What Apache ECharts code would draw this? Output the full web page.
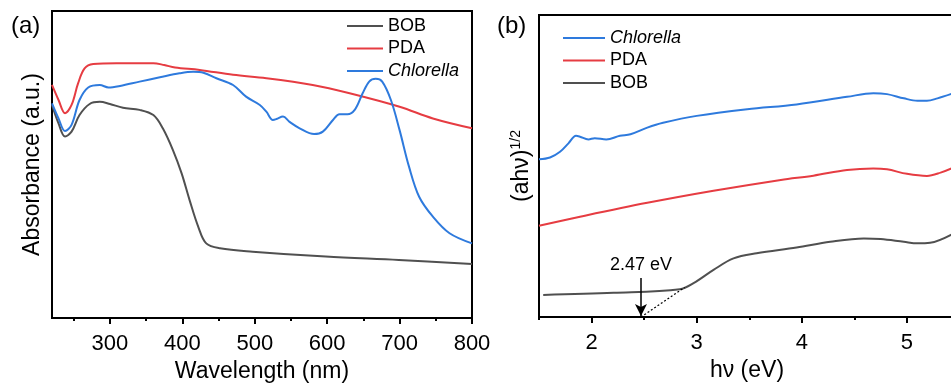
<!DOCTYPE html>
<html><head><meta charset="utf-8">
<script src="https://cdn.jsdelivr.net/npm/echarts@6/dist/echarts.min.js"></script>
<style>html,body{margin:0;padding:0;background:#fff}#c{width:951px;height:383px}</style>
</head><body><div id="c"></div>
<script>
// ---- Panel (a): UV-vis absorbance (a.u.) ----
const bobWl  = [220,229,238,247,258,272,286,300,318,341,360,373,387,399,410,422,433,452,497,598,699,800];
const bobAbs = [69.4,63.4,59.1,60.7,66.1,69.7,70.4,69.7,68.5,67.8,66.1,61.8,54.7,47.1,38.4,29.7,24.3,22.7,21.6,20.0,18.9,17.6];
const pdaWl  = [220,229,238,247,256,265,277,309,360,375,390,424,470,516,580,631,700,746,800];
const pdaAbs = [75.9,71.0,66.7,69.4,76.4,81.3,82.7,83.0,83.0,82.4,81.6,80.8,79.2,78.1,75.9,73.2,68.8,65.0,61.8];
const chlWl  = [220,229,238,247,258,270,286,298,314,341,369,396,415,429,447,470,488,507,516,525,530,539,548,562,582,594,608,617,628,638,649,658,667,676,688,700,713,727,746,769,800];
const chlAbs = [69.9,65.0,60.9,62.9,71.0,75.1,75.9,75.1,75.6,77.0,78.4,79.7,80.2,79.9,78.1,75.9,72.1,69.4,67.2,64.5,64.8,65.6,63.9,61.8,59.9,60.7,64.5,66.4,66.4,67.8,73.2,77.0,77.9,77.0,71.0,61.2,49.3,39.5,33.0,27.6,24.3];
const wlTicks = [300,400,500,600,700,800];
const wlMinorTicks = [250,350,450,550,650,750];

// ---- Panel (b): Tauc plot (ahv)^1/2 ----
const chlEv   = [1.50,1.605,1.70,1.78,1.852,1.89,1.97,2.03,2.14,2.27,2.37,2.53,2.68,3.0,3.48,3.95,4.43,4.68,4.81,4.97,5.10,5.19,5.29,5.45];
const chlTauc = [52.2,52.8,54.7,57.5,60.0,59.7,58.8,59.2,58.8,60.0,60.5,62.7,64.3,66.6,68.8,70.4,72.9,74.1,73.8,72.4,71.6,71.6,72.4,74.2];
const pdaEv   = [1.50,1.89,2.53,3.16,3.80,4.11,4.43,4.68,4.81,5.0,5.19,5.32,5.45];
const pdaTauc = [30.2,33.2,37.8,41.8,45.4,46.8,48.7,49.2,48.9,47.4,46.7,47.8,49.6];
const bobEv   = [1.54,2.21,2.84,2.97,3.16,3.35,3.57,3.95,4.27,4.59,4.75,4.97,5.10,5.22,5.45];
const bobTauc = [7.3,8.0,9.2,11.2,15.6,19.4,21.1,23.0,24.9,26.0,25.8,24.9,24.4,24.6,27.8];
const tangentEv   = [2.47,2.886];
const tangentTauc = [0,9.8];
const gapEnergy = 2.47;
const gapLabel = '2.47 eV';
const evTicks = [2,3,4,5];
const evMinorTicks = [1.5,2.5,3.5,4.5];

const zip = (xs, ys) => xs.map((x, i) => [x, ys[i]]);
const FONT = 'Liberation Sans, Arial, sans-serif';
const C_BOB = '#505050', C_PDA = '#e63c42', C_CHL = '#2e7add';

function xMain(gridIndex, min, max, ticks, name, gap) {
  return {
    type: 'value', gridIndex, min, max, position: 'bottom',
    name, nameLocation: 'middle', nameGap: gap,
    nameTextStyle: {fontSize: 23, color: '#000', fontFamily: FONT},
    axisLine: {show: true, lineStyle: {color: '#000', width: 2}},
    axisTick: {show: true, inside: false, length: 6, customValues: ticks, lineStyle: {color: '#000', width: 2}},
    axisLabel: {show: true, customValues: ticks, fontSize: 22, color: '#000', fontFamily: FONT, margin: 15},
    splitLine: {show: false}
  };
}
function xMinor(gridIndex, min, max, ticks) {
  return {
    type: 'value', gridIndex, min, max, position: 'bottom',
    axisLine: {show: false},
    axisTick: {show: true, inside: false, length: 3, customValues: ticks, lineStyle: {color: '#000', width: 2}},
    axisLabel: {show: false},
    splitLine: {show: false}
  };
}
function yAxis(gridIndex, name, gap, rich) {
  const o = {
    type: 'value', gridIndex, min: 0, max: 100,
    axisLine: {show: true, lineStyle: {color: '#000', width: 2}},
    axisTick: {show: false}, axisLabel: {show: false}, splitLine: {show: false}
  };
  if (name) {
    o.name = name; o.nameLocation = 'middle'; o.nameGap = gap;
    o.nameTextStyle = {fontSize: 23, color: '#000', fontFamily: FONT, rich: rich};
  }
  return o;
}
function lineSeries(name, color, xi, yi, data) {
  return {
    name, type: 'line', xAxisIndex: xi, yAxisIndex: yi, data,
    showSymbol: false, symbol: 'none', smooth: 0.35,
    lineStyle: {color, width: 2}, itemStyle: {color}
  };
}
const legendText = {
  fontSize: 18, lineHeight: 18, color: '#000', fontFamily: FONT,
  rich: {i: {fontStyle: 'italic', fontSize: 18, lineHeight: 18, fontFamily: FONT, color: '#000'}}
};
const legendFmt = n => n === 'Chlorella' ? '{i|Chlorella}' : n;
const gridBase = {containLabel: false, outerBoundsMode: 'none'};

const chart = echarts.init(document.getElementById('c'), null, {renderer: 'canvas'});
chart.setOption({
  animation: false,
  backgroundColor: '#fff',
  title: [
    {text: '(a)', left: 11, top: 14, padding: 0, textStyle: {fontSize: 24, fontWeight: 'normal', color: '#000', fontFamily: FONT}},
    {text: '(b)', left: 497, top: 14, padding: 0, textStyle: {fontSize: 24, fontWeight: 'normal', color: '#000', fontFamily: FONT}}
  ],
  grid: [
    Object.assign({left: 52, top: 11, right: 479, bottom: 65, show: true, borderColor: '#000', borderWidth: 2}, gridBase),
    Object.assign({left: 539, top: 15, right: -4, bottom: 66, show: true, borderColor: '#000', borderWidth: 2}, gridBase),
    Object.assign({left: 52, top: 11, right: 479, bottom: 65}, gridBase),
    Object.assign({left: 539, top: 15, right: -4, bottom: 66}, gridBase)
  ],
  xAxis: [
    xMain(0, 220, 800, wlTicks, 'Wavelength (nm)', 38),
    xMain(1, 1.5, 5.457, evTicks, 'hν (eV)', 38),
    xMinor(2, 220, 800, wlMinorTicks),
    xMinor(3, 1.5, 5.457, evMinorTicks)
  ],
  yAxis: [
    yAxis(0, 'Absorbance (a.u.)', 8),
    yAxis(1, '{a|(ahν)}{s|1/2}', 4, {a: {fontSize: 23, lineHeight: 26, color: '#000', fontFamily: FONT}, s: {fontSize: 14, lineHeight: 26, verticalAlign: 'top', color: '#000', fontFamily: FONT}}),
    Object.assign(yAxis(2), {show: false}),
    Object.assign(yAxis(3), {show: false})
  ],
  legend: [
    {data: ['BOB', 'PDA', 'Chlorella'], orient: 'vertical', left: 347, top: 17, padding: 0, icon: 'rect',
     itemWidth: 36, itemHeight: 2, itemGap: 4.5, selectedMode: false, textStyle: legendText, formatter: legendFmt},
    {data: ['Chlorella', 'PDA', 'BOB'], orient: 'vertical', left: 563, top: 29, padding: 0, icon: 'rect',
     itemWidth: 42, itemHeight: 2, itemGap: 4.5, selectedMode: false, textStyle: legendText, formatter: legendFmt}
  ],
  series: [
    lineSeries('BOB', C_BOB, 0, 0, zip(bobWl, bobAbs)),
    lineSeries('PDA', C_PDA, 0, 0, zip(pdaWl, pdaAbs)),
    lineSeries('Chlorella', C_CHL, 0, 0, zip(chlWl, chlAbs)),
    lineSeries('Chlorella', C_CHL, 1, 1, zip(chlEv, chlTauc)),
    lineSeries('PDA', C_PDA, 1, 1, zip(pdaEv, pdaTauc)),
    lineSeries('BOB', C_BOB, 1, 1, zip(bobEv, bobTauc)),
    {
      name: 'tangent', type: 'line', xAxisIndex: 1, yAxisIndex: 1,
      data: zip(tangentEv, tangentTauc), showSymbol: false, symbol: 'none',
      lineStyle: {color: '#000', width: 1.2, type: [2, 2]},
      markLine: {
        silent: true, animation: false,
        symbol: ['none', 'arrow'], symbolSize: [9, 12],
        lineStyle: {color: '#000', width: 1.5, type: 'solid'},
        label: {show: true, position: 'start', formatter: gapLabel, fontSize: 18, color: '#000', fontFamily: FONT, distance: 4},
        data: [[{coord: [gapEnergy, 12.9]}, {coord: [gapEnergy, 0.3]}]]
      }
    }
  ]
});
</script></body></html>
